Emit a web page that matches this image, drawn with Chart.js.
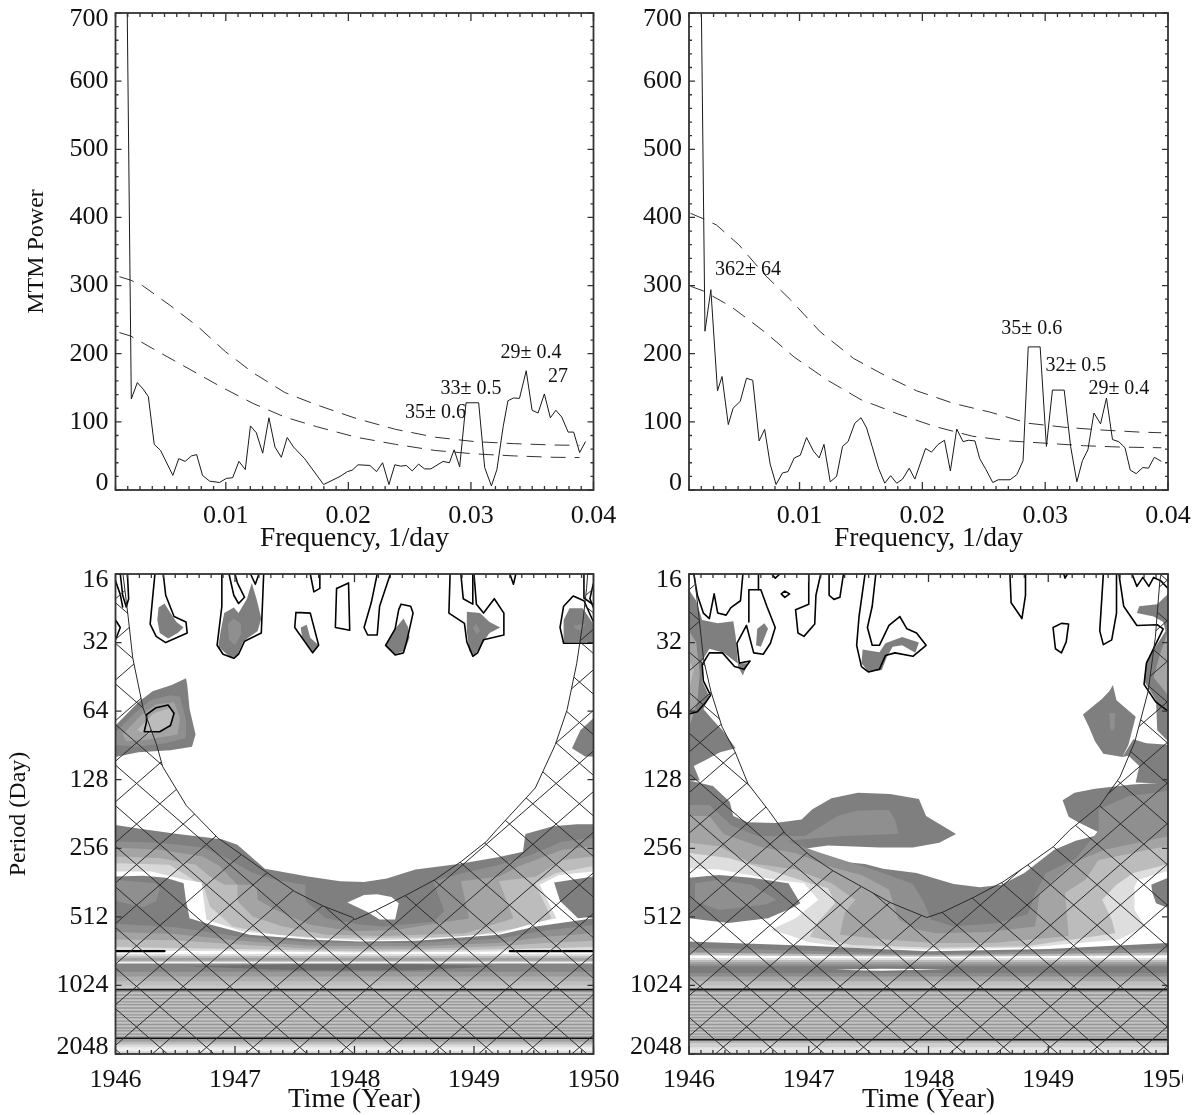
<!DOCTYPE html>
<html><head><meta charset="utf-8"><title>MTM spectra and wavelet power</title>
<script src="https://cdn.jsdelivr.net/npm/chart.js@4/dist/chart.umd.min.js"></script>
<style>html,body{margin:0;padding:0;background:#fff;overflow:hidden;width:1200px;height:1115px}canvas{position:absolute;display:block}</style>
</head><body>
<canvas id="c1"></canvas><canvas id="c2"></canvas><canvas id="c3"></canvas><canvas id="c4"></canvas>
<script>
/* ---------- axis values ---------- */
const POWER_TICKS=[0,100,200,300,400,500,600,700];
const FREQ_TICKS=[0.01,0.02,0.03,0.04];
const PERIOD_TICKS=[16,32,64,128,256,512,1024,2048];
const YEAR_TICKS=[1946,1947,1948,1949,1950];

/* ---------- MTM spectra ---------- */
const L_FREQ=[0.0019,0.00229,0.00278,0.00326,0.00368,0.00416,0.00468,0.00568,0.00616,0.00668,0.0072,0.00762,0.0081,0.00868,0.00949,0.01004,0.01056,0.01107,0.01159,0.01201,0.01249,0.01301,0.01352,0.01401,0.01453,0.01501,0.01553,0.01643,0.01798,0.01933,0.01992,0.0203,0.02079,0.02176,0.0223,0.02279,0.02331,0.02379,0.02427,0.02473,0.02521,0.02573,0.02621,0.02673,0.02773,0.02824,0.02863,0.02908,0.0296,0.03063,0.03112,0.03167,0.03212,0.03263,0.03302,0.03347,0.03396,0.03451,0.03499,0.03548,0.03599,0.03648,0.03693,0.03741,0.03793,0.03838,0.03887,0.03935];
const L_POWER=[800,133.5,157.6,148,137,67,58,21.5,46,42,50,52,21.5,13,11,17,18,42,30,94,84,54,106,63,48,77,63,46,8,20,27,29,37,36,27,40,8,37,35,36,28,38,31,31,42,40,59,34,128,128,33,6,30,93,131,135,134.5,175,117,113,141,106,117,107,85,85,55,71];
const L_UP_F=[0.00132,0.00223,0.0032,0.00545,0.00771,0.00997,0.01223,0.01482,0.0174,0.02063,0.02385,0.02708,0.03031,0.03354,0.03677,0.03886];
const L_UP_P=[313,308,300,271,240,203,172,143,125,105,89,77.5,71,68,66,65.5];
const L_LO_F=[0.00132,0.00223,0.00449,0.00707,0.00965,0.01223,0.01482,0.0174,0.02063,0.02385,0.02708,0.03031,0.03354,0.03677,0.03886];
const L_LO_P=[231,226,203,177,151,127,107,93,77.5,67,58,53,50,48,47.6];
const L_NOTE_F=[0.0349,0.0371,0.03,0.0271];
const L_NOTE_P=[201,166,148,113];
const L_NOTE_T=['29± 0.4','27','33± 0.5','35± 0.6'];

const R_FREQ=[0.00195,0.0023,0.00278,0.00332,0.00369,0.0042,0.00459,0.00517,0.00568,0.00619,0.00671,0.00716,0.00761,0.00809,0.00861,0.00906,0.00957,0.01006,0.01057,0.01114,0.0116,0.01199,0.0125,0.01302,0.0135,0.01395,0.0145,0.01501,0.01546,0.01591,0.01643,0.01694,0.01742,0.01791,0.01839,0.01893,0.01939,0.02026,0.02074,0.02129,0.0218,0.02228,0.0228,0.02331,0.02376,0.02428,0.02467,0.02518,0.02573,0.02618,0.02714,0.02769,0.0282,0.02862,0.02959,0.0301,0.03059,0.03155,0.03207,0.03258,0.03303,0.03348,0.03397,0.03451,0.03499,0.03548,0.03599,0.0365,0.03693,0.03741,0.03795,0.03841,0.03889,0.03946];
const R_POWER=[800,233,294,145.5,166.5,96,120,130,164,161,72,89,38,8,25,27,47,51,77,57,47,67,12,20,64,71,98,106,91,64,32,10,21,10,16,32,16,61,55.5,67,73,28,89.5,71,73,72,46,30,11,15,15,22.5,43,210,210,64,146.6,146.6,64,12,43,59,113,97,135,74,71,62,29,24,33,32,48,42];
const R_UP_F=[0.00112,0.00218,0.00323,0.00505,0.00716,0.00927,0.01169,0.0144,0.01712,0.01954,0.02256,0.02557,0.02859,0.03161,0.03463,0.03765,0.03946];
const R_UP_P=[406,398,389,360,316,279,232,193,166.5,145.5,127,114,98,92,88,85,84];
const R_LO_F=[0.00112,0.00218,0.00444,0.00716,0.00957,0.01229,0.01501,0.01803,0.02105,0.02407,0.02708,0.0301,0.03312,0.03614,0.03946];
const R_LO_P=[299,292,269,232,195,161,132.5,111.5,93,79,72,68.6,65,63,62];
const R_NOTE_F=[0.0058,0.0289,0.0325,0.036];
const R_NOTE_P=[323,236,182,148];
const R_NOTE_T=['362± 64','35± 0.6','32± 0.5','29± 0.4'];

/* ---------- wavelet panels: [year, log2(period in days)] ---------- */
const GD='#7f7f7f',G1='#8f8f8f',G2='#a4a4a4',G3='#bcbcbc',G4='#d8d8d8',WH='#ffffff';

/* left panel, long-period band */
const LW_OUTER=[[1946,7.66],[1946.19,7.71],[1946.52,7.79],[1946.89,7.87],[1947.02,7.95],[1947.25,8.30],[1947.61,8.41],[1947.88,8.48],[1948.08,8.49],[1948.27,8.44],[1948.51,8.31],[1948.87,8.23],[1949.2,8.13],[1949.41,8.05],[1949.43,7.79],[1949.66,7.68],[1949.86,7.65],[1950,7.65],[1950,11],[1946,11]];
const LW_L1=[[1946,7.90],[1946.37,7.92],[1946.73,7.99],[1946.93,8.14],[1947.15,8.36],[1947.34,8.46],[1947.59,8.53],[1947.59,8.77],[1947.76,9.02],[1948.04,9.11],[1948.24,9.14],[1948.66,9.07],[1948.75,8.92],[1948.66,8.48],[1948.91,8.36],[1949.21,8.24],[1949.44,8.12],[1949.74,7.9],[1950,7.85],[1950,10],[1946,10]];
const LW_L2=[[1946,7.99],[1946.37,8.02],[1946.73,8.12],[1946.87,8.26],[1947.02,8.53],[1947.18,8.53],[1947.19,8.75],[1947.34,8.9],[1947.62,9.11],[1947.98,9.21],[1948.35,9.19],[1948.96,9.02],[1948.89,8.48],[1949.21,8.41],[1949.38,8.26],[1949.74,8.02],[1950,7.97],[1950,10],[1946,10]];
const LW_L3=[[1946,8.12],[1946.37,8.14],[1946.67,8.24],[1946.79,8.41],[1946.91,8.53],[1947.02,8.53],[1947.02,8.77],[1947.15,9.0],[1947.4,9.14],[1947.76,9.26],[1948.24,9.28],[1948.93,9.24],[1949.33,9.02],[1949.21,8.48],[1949.52,8.41],[1949.74,8.17],[1950,8.12],[1950,10],[1946,10]];
const LW_L4=[[1946,8.22],[1946.45,8.24],[1946.59,8.39],[1946.74,8.56],[1946.79,8.85],[1946.98,9.14],[1947.34,9.26],[1947.76,9.31],[1948.24,9.31],[1948.93,9.29],[1949.44,9.14],[1949.65,9.02],[1949.51,8.51],[1949.69,8.36],[1950,8.26],[1950,10],[1946,10]];
const LW_WHITE=[[1946,8.34],[1946.3,8.34],[1946.58,8.46],[1946.72,8.5],[1946.76,9.04],[1947.06,9.21],[1947.62,9.31],[1948.04,9.34],[1948.52,9.33],[1949.21,9.24],[1949.51,9.09],[1949.69,9.02],[1949.55,8.53],[1949.71,8.39],[1950,8.34],[1950,10],[1946,10]];
const LW_HOLE=[[1947.94,8.79],[1948.08,8.68],[1948.19,8.67],[1948.31,8.71],[1948.37,8.8],[1948.34,9.04],[1948.21,9.04],[1948.11,8.93]];
const LW_BLOB_R=[[1950,8.41],[1949.67,8.5],[1949.72,8.77],[1949.87,9.02],[1950,9.0]];
const LW_BELOW=[[1946,8.41],[1946.23,8.40],[1946.42,8.43],[1946.57,8.51],[1946.59,8.77],[1946.62,9.02],[1946.79,9.11],[1947.12,9.26],[1947.62,9.33],[1948.04,9.36],[1948.52,9.35],[1949.21,9.26],[1949.52,9.14],[1950,9.02],[1950,11],[1946,11]];
const LW_BLOB_IN=[[1946,8.46],[1946.34,8.51],[1946.37,8.6],[1946.34,8.77],[1946.23,8.86],[1946,8.77]];
const LW_B1=[[1946,9.10],[1946.5,9.15],[1947,9.28],[1947.62,9.37],[1948.5,9.38],[1949.2,9.32],[1949.6,9.2],[1950,9.12],[1950,11],[1946,11]];
const LW_B2=[[1946,9.22],[1946.5,9.25],[1947,9.34],[1947.62,9.42],[1948.5,9.43],[1949.2,9.38],[1949.6,9.29],[1950,9.24],[1950,11],[1946,11]];
const LW_B3=[[1946,9.33],[1946.5,9.34],[1947,9.4],[1947.6,9.46],[1948.5,9.47],[1949.2,9.43],[1949.6,9.38],[1950,9.35],[1950,11],[1946,11]];
const LW_B4=[[1946,9.44],[1947,9.47],[1948,9.5],[1949,9.48],[1950,9.44],[1950,11],[1946,11]];
const LW_B5=[[1946,9.49],[1947,9.5],[1948,9.52],[1949,9.51],[1950,9.49],[1950,11],[1946,11]];
const LW_FLAT_A=[9.54,9.57,9.6,9.64,9.66,9.68];
const LW_FLAT_A_GREY=['#dddddd','#bbbbbb','#a0a0a0','#c8c8c8','#f4f4f4','#858585'];
const LW_LENS=[[1946.6,9.72],[1947.5,9.69],[1948,9.69],[1948.5,9.69],[1949.2,9.72],[1948.5,9.78],[1947.5,9.78]];
const LW_FLAT_B=[9.8,9.87,9.94,10.0,10.06,10.77,10.82,10.86,10.90,10.96];
const LW_FLAT_B_GREY=['#9a9a9a','#aeaeae','#bebebe','#cacaca','#c4c4c4','#a0a0a0','#bdbdbd','#dcdcdc','#efefef','#d6d6d6'];
const STRIPE_OCTAVES=[10.09,10.14,10.19,10.24,10.28,10.33,10.38,10.43,10.47,10.52,10.57,10.62,10.66,10.71,10.75];

/* left panel, short-period patches */
const LP_A=[[1946.36,4.49],[1946.41,4.43],[1946.46,4.57],[1946.51,4.7],[1946.57,4.78],[1946.52,4.86],[1946.44,4.94],[1946.37,4.86],[1946.35,4.67]];
const LP_B=[[1946.91,4.57],[1946.99,4.49],[1947.03,4.57],[1947.1,4.36],[1947.14,4.13],[1947.18,4.36],[1947.22,4.65],[1947.19,4.83],[1947.07,4.98],[1947.02,5.18],[1946.97,5.23],[1946.86,5.06],[1946.88,4.83]];
const LP_B_IN=[[1946.94,4.73],[1946.99,4.65],[1947.05,4.73],[1947.05,4.88],[1947,5.04],[1946.95,4.96]];
const LP_C=[[1947.55,4.78],[1947.6,4.74],[1947.63,4.93],[1947.7,5.04],[1947.65,5.14],[1947.61,5.06],[1947.56,4.91]];
const LP_D=[[1948.34,4.8],[1948.41,4.65],[1948.45,4.78],[1948.46,4.93],[1948.42,5.12],[1948.34,5.17],[1948.26,5.04],[1948.29,4.96]];
const LP_E=[[1948.94,4.55],[1949.05,4.57],[1949.13,4.7],[1949.22,4.78],[1949.13,4.86],[1949.07,5.01],[1949,5.2],[1948.96,5.12],[1948.94,4.83]];
const LP_E_IN=[[1948.99,4.78],[1949.02,4.73],[1949.05,4.83],[1949.02,4.88]];
const LP_F=[[1949.75,4.67],[1949.8,4.5],[1949.91,4.5],[1950,4.73],[1950,4.99],[1949.75,5]];
const LP_F_IN=[[1949.83,4.75],[1949.93,4.73],[1949.9,4.83],[1949.85,4.8]];
const LP_G=[[1946,6.21],[1946.19,5.87],[1946.31,5.71],[1946.47,5.62],[1946.59,5.52],[1946.6,5.61],[1946.62,5.97],[1946.67,6.34],[1946.64,6.52],[1946.46,6.57],[1946.19,6.6],[1946,6.67]];
const LP_G1=[[1946,6.31],[1946.16,6.03],[1946.29,5.84],[1946.46,5.77],[1946.54,5.79],[1946.59,6.13],[1946.59,6.39],[1946.42,6.47],[1946.16,6.52],[1946,6.49]];
const LP_G2=[[1946.06,6.34],[1946.22,6.05],[1946.34,5.9],[1946.49,5.87],[1946.54,6.1],[1946.52,6.34],[1946.29,6.41],[1946.09,6.44]];
const LP_G3=[[1946.18,6.28],[1946.32,6.03],[1946.46,5.95],[1946.49,6.08],[1946.44,6.26],[1946.27,6.34]];
const LP_H=[[1950,6.1],[1949.89,6.28],[1949.82,6.54],[1949.93,6.66],[1950,6.66]];

/* left panel, contour lines */
const LC_1=[[1946.33,4],[1946.31,4.36],[1946.29,4.73],[1946.34,4.91],[1946.42,5],[1946.51,4.93],[1946.6,4.86],[1946.59,4.7],[1946.49,4.62],[1946.42,4.31],[1946.4,4]];
const LC_2=[[1946.89,4],[1946.89,4.47],[1946.85,5.04],[1946.9,5.17],[1946.99,5.23],[1947.03,5.17],[1947.08,4.98],[1947.22,4.86],[1947.24,4]];
const LC_3=[[1946.95,4],[1946.99,4.31],[1947.03,4.43],[1947.08,4.34],[1947.02,4.13],[1947,4]];
const LC_4=[[1947.13,4],[1947.17,4.15],[1947.2,4]];
const LC_5=[[1947.51,4.56],[1947.5,4.78],[1947.65,5.15],[1947.7,5.04],[1947.63,4.57],[1947.51,4.56]];
const LC_6=[[1947.85,4.21],[1947.84,4.78],[1947.96,4.82],[1947.95,4.13],[1947.85,4.21]];
const LC_7=[[1948.19,4],[1948.14,4.42],[1948.08,4.78],[1948.11,4.89],[1948.19,4.89],[1948.21,4.47],[1948.3,4]];
const LC_8=[[1948.39,4.44],[1948.47,4.47],[1948.49,4.57],[1948.44,4.96],[1948.41,5.15],[1948.34,5.18],[1948.26,5.04],[1948.34,4.8],[1948.37,4.52],[1948.39,4.44]];
const LC_9=[[1948.8,4],[1948.79,4.57],[1948.92,4.72],[1948.94,4.99],[1948.99,5.2],[1949.03,5.15],[1949.08,4.96],[1949.25,4.89],[1949.25,4.57],[1949.17,4.36],[1949.08,4.57],[1949.02,4.44],[1949,4]];
const LC_10=[[1948.89,4],[1948.91,4.36],[1948.99,4.44],[1948.99,4]];
const LC_11=[[1949.3,4],[1949.33,4.15],[1949.35,4]];
const LC_12=[[1947.63,4],[1947.66,4.26],[1947.71,4.21],[1947.71,4]];
const LC_13=[[1950,5.01],[1949.75,5.01],[1949.72,4.78],[1949.75,4.47],[1949.83,4.32],[1949.92,4.39],[1950,4.7]];
const LC_14=[[1949.92,4],[1949.92,4.35],[1950,4.45]];
const LC_15=[[1950,4.13],[1949.97,4.36],[1950,4.49]];
const LC_16=[[1946.04,4],[1946.06,4.31],[1946.09,4.48],[1946.11,4.36],[1946.1,4]];
const LC_17=[[1946,4.1],[1946.04,4.3],[1946.06,4.48]];
const LC_18=[[1946,4.67],[1946.04,4.78],[1946,4.96]];
const LC_19=[[1946.26,6.05],[1946.34,5.95],[1946.44,5.91],[1946.49,6.03],[1946.46,6.21],[1946.37,6.3],[1946.24,6.3],[1946.26,6.15],[1946.26,6.05]];
const LC_HEAVY_A=[[1946,9.5],[1946.41,9.5]];
const LC_HEAVY_B=[[1949.3,9.5],[1950,9.5]];
const L_LINE_TOP=10.06, L_LINE_BOT=10.77;

/* right panel, long-period band */
const RW_OUTER=[[1946,7.01],[1946.2,7.09],[1946.34,7.32],[1946.37,7.53],[1946.49,7.62],[1946.72,7.63],[1946.94,7.58],[1947.03,7.43],[1947.19,7.27],[1947.41,7.19],[1947.68,7.21],[1947.92,7.28],[1947.98,7.53],[1948.23,7.79],[1948.09,7.92],[1947.87,7.99],[1947.59,7.99],[1947.16,7.96],[1946.82,8.04],[1946.97,8.13],[1947.19,8.18],[1947.47,8.23],[1947.62,8.3],[1947.9,8.36],[1948.21,8.52],[1948.43,8.57],[1948.61,8.53],[1948.8,8.36],[1949.05,8.02],[1949.23,7.89],[1949.45,7.79],[1949.25,7.62],[1949.17,7.54],[1949.12,7.3],[1949.22,7.19],[1949.39,7.13],[1949.7,7.07],[1950,7.04],[1950,11],[1946,11]];
const RW_L1=[[1946,7.37],[1946.17,7.37],[1946.35,7.66],[1946.57,7.82],[1946.97,7.82],[1947.24,7.53],[1947.41,7.45],[1947.67,7.44],[1947.72,7.58],[1947.75,7.79],[1947.28,7.82],[1946.82,7.89],[1947.07,8.05],[1947.44,8.26],[1947.62,8.36],[1947.87,8.52],[1947.96,8.78],[1948.02,9.04],[1948.21,9.14],[1948.58,9.09],[1948.83,8.96],[1948.89,8.67],[1948.98,8.36],[1949.23,8.15],[1949.42,7.74],[1949.42,7.43],[1949.67,7.24],[1950,7.16],[1950,10],[1946,10]];
const RW_L2=[[1946,7.53],[1946.17,7.53],[1946.29,7.79],[1946.6,7.98],[1946.89,8.07],[1947.16,8.26],[1947.44,8.39],[1947.67,8.6],[1947.75,9.04],[1947.92,9.19],[1948.06,9.24],[1948.5,9.22],[1948.89,9.14],[1948.93,8.65],[1949.2,8.22],[1949.47,8.02],[1949.98,7.83],[1950,7.83],[1950,10],[1946,10]];
const RW_L3=[[1946,7.92],[1946.25,7.97],[1946.52,8.22],[1946.89,8.31],[1947.19,8.51],[1947.39,8.75],[1947.3,8.94],[1947.26,9.26],[1947.64,9.33],[1948.06,9.38],[1948.53,9.38],[1949.17,9.28],[1949.14,8.65],[1949.31,8.46],[1949.42,8.17],[1949.98,7.97],[1950,7.97],[1950,10],[1946,10]];
const RW_L4=[[1946,8.07],[1946.33,8.14],[1946.75,8.36],[1947.05,8.53],[1947.16,8.58],[1947.22,8.8],[1947.07,9.09],[1947.01,9.29],[1947.36,9.41],[1948.06,9.45],[1948.81,9.43],[1949.56,9.24],[1949.53,9.04],[1949.45,8.75],[1949.57,8.53],[1949.71,8.36],[1949.98,8.24],[1950,8.24],[1950,10],[1946,10]];
const RW_WHITE=[[1946,8.29],[1946.25,8.31],[1946.72,8.46],[1946.96,8.51],[1947.08,8.75],[1946.89,9.02],[1946.68,9.19],[1946.84,9.27],[1947,9.37],[1947.36,9.45],[1948.06,9.48],[1948.81,9.45],[1949.59,9.33],[1949.81,9.14],[1949.72,8.9],[1949.72,8.56],[1949.75,8.46],[1949.98,8.34],[1950,8.34],[1950,10],[1946,10]];
const RW_BLOB_R=[[1949.86,8.53],[1950,8.43],[1950,8.87],[1949.9,8.8],[1949.87,8.65]];
const RW_BLOB=[[1946,8.43],[1946.25,8.39],[1946.52,8.43],[1946.83,8.51],[1946.93,8.8],[1946.86,8.87],[1946.66,9.02],[1946.33,9.09],[1946,9.02]];
const RW_BLOB_IN=[[1946.05,8.51],[1946.25,8.46],[1946.52,8.53],[1946.73,8.75],[1946.64,8.82],[1946.25,8.9],[1946.05,8.77]];
const RW_B0=[[1946,9.36],[1947,9.42],[1948,9.5],[1949,9.47],[1950,9.38],[1950,11],[1946,11]];
const RW_B1=[[1946,9.45],[1948,9.54],[1950,9.46],[1950,11],[1946,11]];
const RW_B2=[[1946,9.52],[1948,9.56],[1950,9.52],[1950,11],[1946,11]];
const RW_B3=[[1946,9.56],[1948,9.58],[1950,9.56],[1950,11],[1946,11]];
const RW_FLAT=[9.6,9.63,9.66,9.69,9.72,9.82,9.87,9.94,10.0,10.06,10.79,10.84,10.9,10.97];
const RW_FLAT_GREY=['#e0e0e0','#bcbcbc','#a2a2a2','#8e8e8e','#7c7c7c','#8c8c8c','#a6a6a6','#bebebe','#cacaca','#c4c4c4','#b4b4b4','#cfcfcf','#e4e4e4','#d0d0d0'];
const RW_SLIVER=[[1947.22,9.77],[1947.6,9.755],[1948.14,9.765],[1947.6,9.785]];
const R_LINE_TOP=10.06, R_LINE_BOT=10.79;

/* right panel, short-period patches */
const RP_LEFT=[[1946,4.23],[1946.06,4.39],[1946.11,4.67],[1946.24,4.72],[1946.37,4.69],[1946.39,4.91],[1946.41,5.35],[1946.45,5.48],[1946.49,5.3],[1946.41,5.31],[1946.29,5.15],[1946.17,5.09],[1946.11,5.27],[1946.11,5.56],[1946.17,5.79],[1946.12,5.97],[1946.2,6.13],[1946.28,6.28],[1946.39,6.54],[1946.26,6.6],[1946.12,6.73],[1946.04,6.8],[1946.09,7.01],[1946,7.01]];
const RP_LEFT_IN=[[1946,4.83],[1946.06,4.99],[1946.09,5.45],[1946.07,5.87],[1946,6.23]];
const RP_LEFT_IN2=[[1946,5.25],[1946.04,5.4],[1946,5.7]];
const RP_SMALL=[[1946.57,4.8],[1946.63,4.72],[1946.66,4.8],[1946.6,5.06],[1946.56,5.04]];
const RP_MID=[[1947.45,5.1],[1947.59,5.14],[1947.64,5.01],[1947.78,4.92],[1947.92,5],[1947.89,5.15],[1947.78,5.04],[1947.7,5.06],[1947.65,5.22],[1947.61,5.4],[1947.5,5.43],[1947.44,5.3]];
const RP_RIGHT=[[1950,4.29],[1949.91,4.44],[1949.76,4.47],[1949.74,4.57],[1949.88,4.62],[1949.96,4.7],[1949.98,4.83],[1949.82,5.27],[1949.8,5.56],[1949.9,5.84],[1949.91,6.28],[1950,6.44]];
const RP_RIGHT_IN=[[1950,4.83],[1949.93,5.19],[1949.88,5.51],[1950,5.77]];
const RP_64=[[1949.29,6.05],[1949.45,5.82],[1949.51,5.71],[1949.54,5.62],[1949.57,5.84],[1949.73,6.08],[1949.67,6.49],[1949.62,6.67],[1949.46,6.62],[1949.39,6.44],[1949.34,6.23]];
const RP_64_IN=[[1949.51,6.03],[1949.56,6.03],[1949.55,6.28],[1949.52,6.28]];
const RP_EDGE=[[1949.71,6.41],[1949.82,6.47],[1950,6.49],[1950,7.06],[1949.73,7.04],[1949.76,6.8],[1949.67,6.65],[1949.62,6.67]];

/* right panel, contour lines */
const RC_1=[[1946.04,4],[1946.07,4.31],[1946.12,4.57],[1946.17,4.65],[1946.21,4.29],[1946.24,4.57],[1946.31,4.6],[1946.35,4.49],[1946.43,4.39],[1946.45,4]];
const RC_2=[[1946.5,4.7],[1946.5,4.23],[1946.6,4.23],[1946.65,4.47],[1946.72,4.78],[1946.68,5.01],[1946.62,5.17],[1946.54,5.15],[1946.48,4.75],[1946.4,5.01],[1946.42,5.3],[1946.51,5.27],[1946.46,5.39],[1946.38,5.35],[1946.28,5.15],[1946.17,5.15],[1946.11,5.32],[1946.12,5.56],[1946.18,5.77],[1946.14,5.87],[1946.07,6.01],[1946,6.04]];
const RC_3=[[1946.58,4],[1946.58,4.23]];
const RC_4=[[1946.77,4.29],[1946.8,4.25],[1946.84,4.29],[1946.8,4.34],[1946.77,4.29]];
const RC_5=[[1946.69,4],[1946.72,4.06],[1946.76,4]];
const RC_6=[[1947,4],[1947,4.44],[1946.89,4.52],[1946.91,4.86],[1946.96,4.91],[1947.05,4.73],[1947.06,4.31],[1947.1,4]];
const RC_7=[[1947.17,4],[1947.17,4.31],[1947.21,4.37],[1947.26,4.34],[1947.29,4]];
const RC_8=[[1947.47,4],[1947.42,4.62],[1947.4,5.04],[1947.44,5.35],[1947.5,5.43],[1947.59,5.39],[1947.64,5.19],[1947.72,5.15],[1947.87,5.2],[1947.98,5.04],[1947.9,4.86],[1947.82,4.8],[1947.76,4.62],[1947.67,4.75],[1947.59,5.04],[1947.53,5.04],[1947.49,4.78],[1947.53,4.47],[1947.56,4]];
const RC_9=[[1948.68,4],[1948.69,4.42],[1948.78,4.65],[1948.81,4.31],[1948.81,4]];
const RC_10=[[1949.04,4.78],[1949.11,4.72],[1949.17,4.73],[1949.15,4.99],[1949.11,5.15],[1949.06,5.09],[1949.04,4.78]];
const RC_11=[[1949.46,4],[1949.43,4.83],[1949.46,5.03],[1949.53,4.96],[1949.57,4.57],[1949.57,4]];
const RC_12=[[1949.59,4],[1949.63,4.47],[1949.74,4.75],[1949.91,4.74],[1949.96,4.8],[1949.82,5.3],[1949.8,5.61],[1949.9,5.87],[1950,6]];
const RC_13=[[1949.7,4],[1949.74,4.18],[1949.79,4.05],[1949.84,4.18],[1949.88,4.05],[1949.94,4.1],[1950,4.21]];
const RC_14=[[1949.13,4],[1949.14,4.06],[1949.16,4]];

/* cones of influence */
const L_COI=[[1946.063,4.01],[1946.107,4.64],[1946.144,5.22],[1946.23,5.95],[1946.344,6.49],[1946.395,6.81],[1946.594,7.38],[1946.857,7.85],[1947.264,8.35],[1947.5,8.63],[1947.735,8.84],[1947.986,9.01],[1948.002,9.04],[1948.184,8.9],[1948.435,8.68],[1948.671,8.46],[1948.895,8.19],[1949.104,7.9],[1949.19,7.73],[1949.513,7.12],[1949.68,6.49],[1949.779,5.98],[1949.859,5.31],[1949.909,4.73],[1949.942,4.21],[1949.951,4]];
const R_COI=[[1946.044,4],[1946.122,5.25],[1946.184,5.72],[1946.276,6.23],[1946.384,6.59],[1946.493,7.06],[1946.666,7.45],[1946.805,7.79],[1947.007,8.1],[1947.205,8.33],[1947.442,8.56],[1947.679,8.79],[1947.985,9.01],[1948.121,8.93],[1948.372,8.72],[1948.622,8.49],[1948.831,8.24],[1949.04,7.98],[1949.182,7.73],[1949.429,7.38],[1949.599,6.96],[1949.724,6.44],[1949.833,5.72],[1949.894,4.93],[1949.932,4.1],[1949.942,4]];

/* hatching: log2(period) where each diagonal meets the 1946 edge */
const HATCH_RISE=6.07;
const L_HATCH_DOWN=[10.931,10.339,9.747,9.155,8.563,7.971,7.379,6.787,6.195,5.603,5.011,4.419,3.827,3.235,2.643,2.051,1.459,0.867,0.275,-0.317,-0.909,-1.501,-2.093];
const L_HATCH_UP=[4.362,4.954,5.546,6.138,6.73,7.322,7.914,8.506,9.098,9.69,10.282,10.874,11.466,12.058,12.65,13.242,13.834,14.426,15.018,15.61,16.202,16.794];
const R_HATCH_DOWN=[10.464,9.872,9.28,8.688,8.096,7.504,6.912,6.32,5.728,5.136,4.544,3.952,3.36,2.768,2.176,1.584,0.992,0.4,-0.192,-0.784,-1.376,-1.968];
const R_HATCH_UP=[4.23,4.822,5.414,6.006,6.598,7.19,7.782,8.374,8.966,9.558,10.15,10.742,11.334,11.926,12.518,13.11,13.702,14.294,14.886,15.478,16.07,16.662];

/* ---------- dataset helpers ---------- */
const xy=(xs,ys)=>xs.map((x,i)=>({x,y:ys[i]}));
const wave=pts=>pts.map(([t,o])=>({x:t,y:Math.pow(2,o)}));
const base={showLine:true,pointRadius:0,pointHoverRadius:0,tension:0,fill:false};
const poly=(pts,color)=>({...base,data:wave(pts),fill:'shape',backgroundColor:color,borderWidth:0});
const stroke=(pts,width,color)=>({...base,data:wave(pts),borderColor:color||'#000',borderWidth:width,borderJoinStyle:'round',borderCapStyle:'round'});
const flat=(o,color)=>poly([[1946,o],[1950,o],[1950,11],[1946,11]],color);
const hline=(o,width,color)=>stroke([[1946,o],[1950,o]],width,color);
const hatch=(o0,rise)=>({...stroke([[1946,o0],[1950,o0+rise]],1,'#2a2a2a'),hatched:true,borderCapStyle:'butt'});

function leftWavelet(){
  const d=[poly(LW_OUTER,GD),poly(LW_L1,G1),poly(LW_L2,G2),poly(LW_L3,G3),poly(LW_L4,G4),poly(LW_WHITE,WH),poly(LW_HOLE,WH),poly(LW_BLOB_R,GD),poly(LW_BELOW,GD),poly(LW_BLOB_IN,G1),poly(LW_B1,G1),poly(LW_B2,G2),poly(LW_B3,G3),poly(LW_B4,'#dcdcdc'),poly(LW_B5,WH)];
  LW_FLAT_A.forEach((o,i)=>d.push(flat(o,LW_FLAT_A_GREY[i])));
  d.push(poly(LW_LENS,'#6e6e6e'));
  LW_FLAT_B.forEach((o,i)=>d.push(flat(o,LW_FLAT_B_GREY[i])));
  STRIPE_OCTAVES.forEach(o=>d.push(hline(o,1.4,'#959595')));
  [LP_A,LP_B,LP_C,LP_D,LP_E,LP_F,LP_G,LP_H].forEach(p=>d.push(poly(p,GD)));
  [LP_B_IN,LP_E_IN,LP_F_IN,LP_G1].forEach(p=>d.push(poly(p,G1)));
  d.push(poly(LP_G2,G2),poly(LP_G3,G3));
  [LC_1,LC_2,LC_3,LC_4,LC_5,LC_6,LC_7,LC_8,LC_9,LC_10,LC_11,LC_12,LC_13,LC_14,LC_15,LC_16,LC_17,LC_18,LC_19].forEach(p=>d.push(stroke(p,1.6)));
  d.push(stroke(LC_HEAVY_A,2.2),stroke(LC_HEAVY_B,2.2),hline(L_LINE_TOP,1.8,'#111'),hline(L_LINE_BOT,1.6,'#111'));
  d.push({...stroke(L_COI,1,'#2a2a2a'),coi:true});
  L_HATCH_DOWN.forEach(o=>d.push(hatch(o,HATCH_RISE)));
  L_HATCH_UP.forEach(o=>d.push(hatch(o,-HATCH_RISE)));
  return d.reverse();
}
function rightWavelet(){
  const d=[poly(RW_OUTER,GD),poly(RW_L1,G1),poly(RW_L2,G2),poly(RW_L3,G3),poly(RW_L4,'#dedede'),poly(RW_WHITE,WH),poly(RW_BLOB_R,GD),poly(RW_BLOB,GD),poly(RW_BLOB_IN,G1),poly(RW_B0,GD),poly(RW_B1,G1),poly(RW_B2,G3),poly(RW_B3,WH)];
  RW_FLAT.forEach((o,i)=>d.push(flat(o,RW_FLAT_GREY[i])));
  d.push(poly(RW_SLIVER,WH));
  STRIPE_OCTAVES.forEach(o=>d.push(hline(o,1.4,'#959595')));
  [RP_LEFT,RP_SMALL,RP_MID,RP_RIGHT,RP_64,RP_EDGE].forEach(p=>d.push(poly(p,GD)));
  d.push(poly(RP_LEFT_IN,G2),poly(RP_LEFT_IN2,G3),poly(RP_RIGHT_IN,G2),poly(RP_64_IN,G1));
  [RC_1,RC_2,RC_3,RC_4,RC_5,RC_6,RC_7,RC_8,RC_9,RC_10,RC_11,RC_12,RC_13,RC_14].forEach(p=>d.push(stroke(p,1.6)));
  d.push(hline(R_LINE_TOP,2,'#111'),hline(R_LINE_BOT,1.6,'#111'));
  d.push({...stroke(R_COI,1,'#2a2a2a'),coi:true});
  R_HATCH_DOWN.forEach(o=>d.push(hatch(o,HATCH_RISE)));
  R_HATCH_UP.forEach(o=>d.push(hatch(o,-HATCH_RISE)));
  return d.reverse();
}
function spectrum(f,p,uf,up,lf,lp){
  const solid={...base,borderColor:'#1a1a1a',borderWidth:1};
  const dash={...base,borderColor:'#333',borderWidth:1,borderDash:[15,9]};
  return [{...solid,data:xy(f,p)},{...dash,data:xy(uf,up)},{...dash,data:xy(lf,lp)}];
}

/* ---------- plugins ---------- */
const frame={id:'frame',afterDatasetsDraw(chart,_,o){
  const {ctx,chartArea:a,scales:{x,y}}=chart;
  ctx.save();ctx.strokeStyle='#333';ctx.lineWidth=1.3;ctx.beginPath();
  const tick=(vals,len,fn)=>vals.forEach(v=>fn(v,len));
  const xt=(v,l)=>{const p=x.getPixelForValue(v);ctx.moveTo(p,a.bottom);ctx.lineTo(p,a.bottom-l);ctx.moveTo(p,a.top);ctx.lineTo(p,a.top+l);};
  const yt=(v,l)=>{const p=y.getPixelForValue(v);ctx.moveTo(a.left,p);ctx.lineTo(a.left+l,p);ctx.moveTo(a.right,p);ctx.lineTo(a.right-l,p);};
  tick(o.xMinor,4,xt);tick(o.xMajor,8,xt);tick(o.yMinor,3,yt);tick(o.yMajor,6,yt);
  ctx.stroke();
  ctx.lineWidth=1.8;ctx.strokeRect(a.left,a.top,a.right-a.left,a.bottom-a.top);
  if(o.notes){ctx.fillStyle='#111';ctx.font='20px "Liberation Serif"';ctx.textAlign='center';ctx.textBaseline='middle';
    o.notes.t.forEach((s,i)=>ctx.fillText(s,x.getPixelForValue(o.notes.f[i]),y.getPixelForValue(o.notes.p[i])));}
  ctx.restore();
}};
const hatchClip={id:'hatchClip',
  beforeDatasetDraw(chart,{index,meta}){
    const ds=chart.data.datasets;
    if(!ds[index].hatched)return;
    const c=chart.getDatasetMeta(ds.findIndex(d=>d.coi)).data, a=chart.chartArea, ctx=chart.ctx;
    ctx.save();ctx.beginPath();ctx.moveTo(a.left,a.top);
    c.forEach(p=>ctx.lineTo(p.x,p.y));
    ctx.lineTo(a.right,a.top);ctx.lineTo(a.right,a.bottom);ctx.lineTo(a.left,a.bottom);ctx.closePath();ctx.clip();
  },
  afterDatasetDraw(chart,{index}){if(chart.data.datasets[index].hatched)chart.ctx.restore();}
};
const steps=(a,b,s,n)=>Array.from({length:n},(_,i)=>a+i*s);
const FREQ_MINOR=steps(0.001,0.04,0.001,40), POWER_MINOR=steps(0,700,20,36), YEAR_MINOR=steps(1946,1950,0.1,41);

const SERIF='"Liberation Serif"';
const endLabel=(v,first,last,topFirst)=>{
  const s=String(v);
  if(v===topFirst)return ['',s];
  if(v===first||v===last)return [s,''];
  return s;
};
function panel(id,g){
  const c=document.getElementById(id);
  c.width=g.w;c.height=g.h;c.style.left=g.left+'px';c.style.top=g.top+'px';c.style.width=g.w+'px';c.style.height=g.h+'px';
  const plotL=g.pl-g.left, plotR=g.pr-g.left, plotT=g.pt-g.top, plotB=g.pb-g.top;
  const tickFont={family:SERIF,size:26,lineHeight:0.5};
  new Chart(c,{type:'scatter',data:{datasets:g.datasets},plugins:[hatchClip,frame],options:{
    responsive:false,animation:false,events:[],
    layout:{padding:{left:0,top:plotT,right:g.w-plotR,bottom:0}},
    plugins:{legend:{display:false},tooltip:{enabled:false},title:{display:false},
      frame:{xMinor:g.xMinor,xMajor:g.xTicks,yMinor:g.yMinor,yMajor:g.yTicks,notes:g.notes}},
    scales:{
      x:{type:'linear',position:'bottom',min:g.xMin,max:g.xMax,
        grid:{display:false,drawTicks:false},border:{display:false},
        afterBuildTicks:s=>{s.ticks=g.xTicks.map(v=>({value:v}));},
        afterFit:s=>{s.height=g.h-plotB;s.paddingLeft=0;s.paddingRight=0;},
        ticks:{autoSkip:false,maxRotation:0,minRotation:0,padding:g.xPad,color:'#111',font:{family:SERIF,size:26},callback:g.xFmt},
        title:{display:true,text:g.xTitle,color:'#111',font:{family:SERIF,size:27.5},padding:{top:0,bottom:g.xTitlePad}}},
      y:{type:g.yType,position:'left',min:g.yMin,max:g.yMax,reverse:g.yReverse,
        grid:{display:false,drawTicks:false},border:{display:false},
        afterBuildTicks:s=>{s.ticks=g.yTicks.map(v=>({value:v}));},
        afterFit:s=>{s.width=plotL;s.paddingTop=0;s.paddingBottom=0;},
        ticks:{autoSkip:false,maxRotation:0,minRotation:0,padding:7,color:'#111',font:tickFont,callback:g.yFmt},
        title:{display:!!g.yTitle,text:g.yTitle||'',color:'#111',font:{family:SERIF,size:24},padding:{top:g.yTitlePad||0,bottom:0}}}
    }}});
}
const specCommon={h:560,top:0,pt:13,pb:490,xMin:0.001,xMax:0.04,xTicks:FREQ_TICKS,xMinor:FREQ_MINOR,yTicks:POWER_TICKS,yMinor:POWER_MINOR,yMin:0,yMax:700,yType:'linear',yReverse:false,
  xFmt:v=>v.toFixed(2),yFmt:v=>v===700?['',String(v)]:(v===0?[String(v),'']:String(v)),xTitle:'Frequency, 1/day',xPad:11,xTitlePad:4.5};
const waveCommon={h:560,top:560,pt:574,pb:1054,xMin:1946,xMax:1950,xTicks:YEAR_TICKS,xMinor:YEAR_MINOR,yTicks:PERIOD_TICKS,yMinor:[],yMin:16,yMax:2048,yType:'logarithmic',yReverse:true,
  xFmt:v=>String(v),yFmt:v=>v===16?['',String(v)]:(v===2048?[String(v),'']:String(v)),xTitle:'Time (Year)',xPad:11,xTitlePad:3.5};

panel('c1',{...specCommon,left:0,w:630,pl:115.5,pr:593.5,yTitle:'MTM Power',yTitlePad:22.6,
  datasets:spectrum(L_FREQ,L_POWER,L_UP_F,L_UP_P,L_LO_F,L_LO_P),notes:{f:L_NOTE_F,p:L_NOTE_P,t:L_NOTE_T}});
panel('c2',{...specCommon,left:630,w:570,pl:689,pr:1168,
  datasets:spectrum(R_FREQ,R_POWER,R_UP_F,R_UP_P,R_LO_F,R_LO_P),notes:{f:R_NOTE_F,p:R_NOTE_P,t:R_NOTE_T}});
panel('c3',{...waveCommon,left:0,w:630,pl:115.5,pr:593.5,yTitle:'Period (Day)',yTitlePad:4.6,datasets:leftWavelet()});
panel('c4',{...waveCommon,left:630,w:553,pl:689,pr:1168,datasets:rightWavelet()});
</script>
</body></html>
